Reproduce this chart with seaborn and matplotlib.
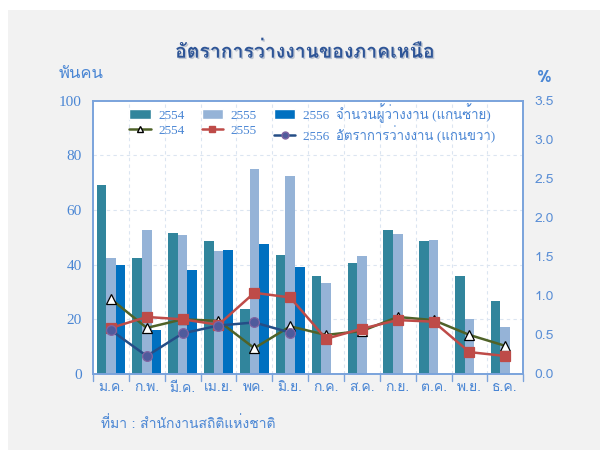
import numpy as np
import pandas as pd
import matplotlib
matplotlib.use("Agg")
import matplotlib.pyplot as plt
import seaborn as sns
from matplotlib import font_manager
from matplotlib.ft2font import FT2Font
from matplotlib.patches import Patch, Rectangle
from matplotlib.lines import Line2D
import matplotlib.patheffects as pe

# ข้อมูล
months = ['ม.ค.', 'ก.พ.', 'มี.ค.', 'เม.ย.', 'พค.', 'มิ.ย.', 'ก.ค.', 'ส.ค.', 'ก.ย.', 'ต.ค.', 'พ.ย.', 'ธ.ค.']
years = ['2554', '2555', '2556']
unemp_2554 = [69.2, 42.4, 51.5, 48.6, 23.9, 43.5, 36.0, 40.8, 52.6, 48.8, 36.0, 26.7]
unemp_2555 = [42.3, 52.7, 50.8, 45.1, 75.0, 72.6, 33.3, 43.2, 51.2, 48.9, 20.0, 17.1]
unemp_2556 = [39.9, 16.1, 37.9, 45.2, 47.7, 39.2, np.nan, np.nan, np.nan, np.nan, np.nan, np.nan]
rate_2554 = [0.96, 0.59, 0.70, 0.68, 0.33, 0.61, 0.50, 0.55, 0.73, 0.69, 0.50, 0.36]
rate_2555 = [0.59, 0.73, 0.70, 0.63, 1.04, 0.98, 0.45, 0.58, 0.69, 0.67, 0.28, 0.23]
rate_2556 = [0.56, 0.23, 0.52, 0.62, 0.66, 0.53, np.nan, np.nan, np.nan, np.nan, np.nan, np.nan]

# หาฟอนต์ที่มีอักษรไทย
thai_font = None
for f in font_manager.fontManager.ttflist:
    try:
        if 0x0E01 in FT2Font(f.fname).get_charmap():
            thai_font = f.name
            break
    except Exception:
        pass

sns.set_theme(style="white")
fams = [thai_font, 'DejaVu Sans'] if thai_font else ['DejaVu Sans']
plt.rcParams['font.family'] = fams
serif_fams = ['Liberation Serif'] + fams

bar_colors = ['#31859c', '#95b3d7', '#0070c0']
blue_txt = '#4a86d4'
spine_c = '#7aa3dc'

df_bar = pd.DataFrame({
    'month': months * 3,
    'year': sum([[y] * 12 for y in years], []),
    'value': unemp_2554 + unemp_2555 + unemp_2556,
})

fig = plt.figure(figsize=(6, 4.5), dpi=100)
fig.patch.set_facecolor('white')
fig.patches.append(Rectangle((8 / 600, 0), 1, 1 - 10 / 450, transform=fig.transFigure,
                             facecolor='#f2f2f2', edgecolor='none', zorder=-10))
ax = fig.add_axes([0.155, 0.169, 0.717, 0.607])
ax.set_facecolor('white')

sns.barplot(data=df_bar, x='month', y='value', hue='year', palette=bar_colors,
            order=months, hue_order=years, width=0.8, ax=ax, legend=False,
            saturation=1, edgecolor='none', errorbar=None)
ax.set_ylim(0, 100)
ax.set_xlim(-0.5, 11.5)
ax.set_yticks(range(0, 101, 20))
ax.set_xlabel('')
ax.set_ylabel('')
ax.set_yticklabels([str(v) for v in range(0, 101, 20)], family='Liberation Serif',
                   fontsize=11, color=blue_txt)
ax.set_xticks(range(12))
ax.set_xticklabels(months, fontsize=10, color=blue_txt)
ax.tick_params(axis='x', length=0, pad=6)
ax.tick_params(axis='y', length=0, pad=8)
# เส้นแบ่งเดือน
for xb in np.arange(0.5, 11.5, 1):
    ax.axvline(xb, color='#dbe5f1', lw=0.8, ls=(0, (3, 3)), zorder=0)
for yv in range(20, 100, 20):
    ax.axhline(yv, color='#dbe5f1', lw=0.8, ls=(0, (3, 3)), zorder=0)
for xb in np.arange(-0.5, 12, 1):
    ax.plot([xb, xb], [0, -0.025], transform=ax.get_xaxis_transform(), color=spine_c,
            lw=1, clip_on=False)
for s in ax.spines.values():
    s.set_color(spine_c)
    s.set_linewidth(1.2)

ax2 = ax.twinx()
x_pos = np.arange(12)
line_specs = [
    (rate_2554, '#4f6228', '^', 'white', 'black'),
    (rate_2555, '#be4b48', 's', '#be4b48', '#be4b48'),
    (rate_2556, '#254e87', 'o', '#4f5b9c', '#8064a2'),
]
for vals, c, m, fc, ec in line_specs:
    sns.lineplot(x=x_pos, y=vals, color=c, lw=1.8, marker=m, markersize=7,
                 markerfacecolor=fc, markeredgecolor=ec, markeredgewidth=0.9, ax=ax2)
ax2.set_ylim(0, 3.5)
ax2.set_yticks(np.arange(0, 3.51, 0.5))
ax2.set_yticklabels([f'{v:.1f}' for v in np.arange(0, 3.51, 0.5)], fontsize=10,
                    color='#5b8fd6')
ax2.tick_params(axis='y', length=0, pad=8)
for s in ax2.spines.values():
    s.set_color(spine_c)
    s.set_linewidth(1.2)

handles = []
for i, (vals, c, m, fc, ec) in enumerate(line_specs):
    handles.append(Patch(facecolor=bar_colors[i]))
    handles.append(Line2D([], [], color=c, lw=1.8, marker=m, markersize=5,
                          markerfacecolor=fc, markeredgecolor=ec))
labels = ['2554', '2554', '2555', '2555',
          '2556  จำนวนผู้ว่างงาน (แกนซ้าย)', '2556  อัตราการว่างงาน (แกนขวา)']
leg = ax2.legend(handles, labels, ncol=3, loc='upper center', bbox_to_anchor=(0.51, 1.035),
                 frameon=False, handlelength=1.6, handletextpad=0.6, columnspacing=1.3,
                 labelspacing=0.18, handleheight=0.8,
                 prop={'family': serif_fams, 'size': 9.5})
for t in leg.get_texts():
    t.set_color(blue_txt)

fig.text(0.508, 0.885, 'อัตราการว่างงานของภาคเหนือ', ha='center', va='center',
         fontsize=14, fontweight='bold', color='#2e5597',
         path_effects=[pe.withSimplePatchShadow(offset=(1, -1), shadow_rgbFace='#9aa7bd', alpha=0.6)])
fig.text(0.097, 0.835, 'พันคน', ha='left', va='center', fontsize=12, color=blue_txt)
fig.text(0.908, 0.828, '%', ha='center', va='center', fontsize=12, fontweight='bold',
         color=blue_txt)
fig.text(0.168, 0.058, 'ที่มา : สำนักงานสถิติแห่งชาติ', ha='left', va='center',
         fontsize=10, color=blue_txt)

fig.savefig('out.png', dpi=100, facecolor=fig.get_facecolor())
